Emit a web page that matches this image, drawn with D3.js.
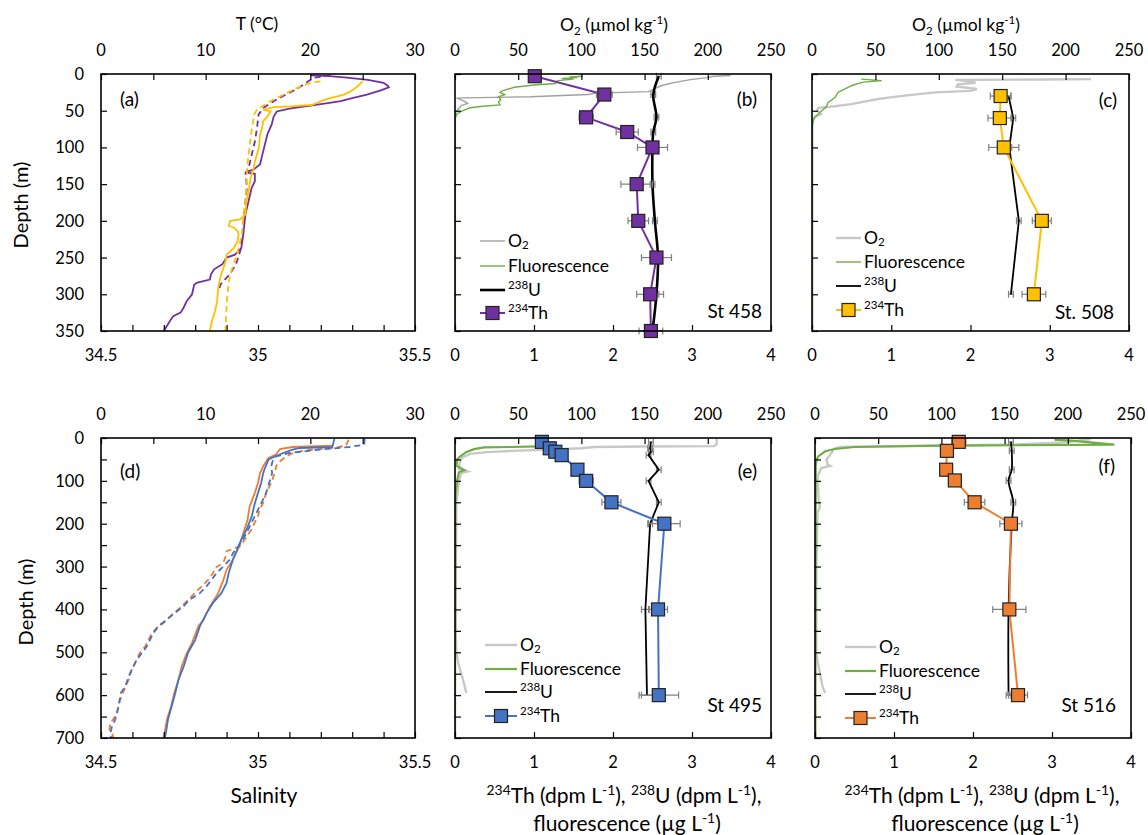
<!DOCTYPE html>
<html><head><meta charset="utf-8">
<script src="https://cdn.jsdelivr.net/npm/d3@7"></script>
<style>
body{margin:0;background:#fff;}
text{font-family:Lato,"Open Sans",sans-serif;fill:#000;}
</style>
</head><body>
<svg id="chart" width="1148" height="835"></svg>
<script>
// ---------------- DATA ----------------
// Panel (a) / (d): CTD profiles [depth m, value]; T in °C (solid), salinity (dashed)
const T458 = [[2,20.0],[3,21.8],[5,23.5],[8,25.5],[12,27.0],[16,27.4],[18,27.5],[22,26.8],[28,25.4],[33,24.0],[37,22.9],[40,21.5],[43,20.0],[47,18.0],[51,16.8],[58,16.5],[69,16.3],[82,15.9],[105,15.5],[123,15.2],[130,14.6],[134,13.8],[136,14.7],[146,14.7],[155,14.4],[173,14.1],[191,13.8],[218,13.6],[237,13.4],[246,12.8],[250,12.0],[259,11.6],[266,10.8],[273,10.5],[280,10.4],[284,9.2],[287,8.9],[300,8.7],[309,8.2],[318,7.9],[325,7.6],[330,6.9],[336,6.6],[350,6.0]];
const S458 = [[2,35.231],[5,35.178],[10,35.16],[20,35.125],[30,35.08],[37,35.05],[46,35.018],[55,35.002],[73,34.997],[92,34.99],[110,34.98],[128,34.97],[135,34.96],[155,34.965],[173,34.96],[200,34.955],[218,34.95],[237,34.946],[246,34.94],[259,34.93],[273,34.91],[282,34.89],[287,34.88],[296,34.875]];
const T508 = [[10,25.0],[17,24.5],[24,23.8],[28,23.2],[33,21.9],[37,21.0],[42,20.2],[44,18.1],[45,16.5],[48.5,15.5],[51,16.2],[58,15.9],[64,15.5],[73,15.4],[82,15.2],[100,15.1],[119,14.7],[128,14.6],[141,14.3],[160,14.1],[173,13.9],[191,13.8],[198,13.3],[200,12.35],[207,12.2],[209,12.7],[214,13.05],[218,13.15],[228,13.05],[237,12.7],[246,12.0],[255,11.9],[264,11.7],[277,11.4],[291,11.2],[309,11.1],[323,10.9],[336,10.6],[350,10.4]];
const S508 = [[10,35.199],[12,35.167],[19,35.124],[28,35.082],[37,35.039],[44,35.013],[48.5,34.997],[55,34.988],[82,34.978],[110,34.97],[128,34.965],[155,34.963],[173,34.96],[191,34.954],[218,34.949],[237,34.938],[246,34.933],[259,34.922],[273,34.912],[286,34.906],[309,34.901],[332,34.898],[350,34.896]];
const T495 = [[1.6,22.3],[21,22.1],[23.3,19.0],[27.2,18.3],[35,17.4],[46.7,16.3],[50.6,16.0],[74,15.6],[82,15.5],[105,15.3],[128,15.0],[152,14.7],[183,14.4],[214,13.9],[237,13.4],[261,13.0],[284,12.6],[315,12.2],[338,12.0],[362,11.5],[385,10.7],[408,10.1],[439,9.45],[471,9.0],[502,8.3],[533,7.9],[564,7.4],[595,7.1],[626,6.75],[657,6.4],[688,6.2],[700,6.1]];
const S495 = [[1.6,35.34],[15.6,35.338],[21,35.291],[27.2,35.196],[35,35.10],[42.8,35.058],[50.6,35.048],[66,35.042],[82,35.045],[97,35.039],[113,35.032],[128,35.026],[144,35.016],[160,35.005],[175,34.995],[191,34.984],[206,34.974],[222,34.963],[237,34.952],[253,34.937],[268,34.921],[284,34.91],[300,34.889],[315,34.868],[331,34.852],[346,34.836],[362,34.815],[377,34.783],[393,34.762],[408,34.736],[424,34.709],[439,34.683],[455,34.667],[471,34.656],[486,34.646],[502,34.63],[517,34.614],[548,34.593],[580,34.577],[595,34.563],[626,34.556],[642,34.551],[657,34.545],[673,34.535],[688,34.53],[700,34.532]];
const T516 = [[17.9,22.1],[21,18.3],[25.7,17.1],[38.9,16.7],[46.7,16.0],[66,15.5],[82,15.2],[105,15.0],[128,14.7],[160,14.2],[191,14.0],[222,13.6],[253,13.2],[284,12.6],[307,12.0],[331,11.7],[362,11.2],[393,10.4],[424,9.8],[439,9.3],[478,8.7],[502,8.2],[533,7.7],[564,7.4],[595,7.0],[626,6.7],[657,6.3],[700,6.0]];
const S516 = [[3.9,35.289],[17.9,35.28],[23.3,35.238],[28.8,35.153],[35,35.111],[42.8,35.09],[58.3,35.063],[66,35.058],[82,35.053],[105,35.042],[128,35.026],[152,35.016],[167,35.005],[183,35.0],[198,34.989],[214,34.979],[237,34.958],[253,34.942],[264,34.90],[276,34.897],[292,34.889],[303,34.863],[315,34.857],[331,34.841],[354,34.81],[377,34.778],[393,34.757],[416,34.72],[432,34.699],[439,34.683],[455,34.662],[486,34.641],[502,34.623],[517,34.614],[541,34.598],[564,34.588],[587,34.574],[611,34.561],[634,34.553],[650,34.545],[665,34.53],[681,34.527],[688,34.535],[700,34.54]];

// Panels (b),(c),(e),(f): O2 [depth, µmol/kg], fluorescence [depth, µg/L],
// 238U and 234Th [depth, dpm/L, error]
const O2_458 = [[2,218],[3,205],[5,199],[8,185],[12,172],[16,163],[20,158],[24,153],[26,112],[28,105],[31,60],[32.5,5],[33,2],[36,6],[40,10],[43,5],[47,3],[52,0.8],[60,0.3],[350,0.3]];
const FL_458 = [[3,1.62],[4,1.45],[5,1.55],[6,1.35],[7,1.50],[9,1.30],[13,1.27],[15,1.0],[18,0.75],[23,0.60],[25,0.57],[28,0.63],[31,0.55],[35,0.58],[38,0.55],[42,0.57],[44,0.35],[46,0.19],[50,0.1],[54,0.03],[60,0.0],[350,0.0]];
const U_458 = [[3,2.58,0.03],[28,2.51,0.03],[59,2.55,0.03],[79,2.51,0.03],[100,2.50,0.03],[150,2.50,0.03],[200,2.53,0.03],[250,2.57,0.03],[300,2.55,0.03],[350,2.50,0.03]];
const TH_458 = [[3,1.01,0.05],[28,1.89,0.10],[59,1.66,0.09],[79,2.18,0.14],[100,2.50,0.19],[150,2.30,0.20],[200,2.32,0.13],[250,2.55,0.19],[300,2.47,0.17],[350,2.48,0.15]];

const O2_508 = [[7,220],[7.5,180],[8,113],[10,125],[12,129],[14,115],[17,114],[20.5,130],[23,125],[25,97],[29.5,73],[34,52],[41,31],[44,18],[46,5],[50,4],[54.5,7],[57,4],[61,1],[70,0.3],[350,0.3]];
const FL_508 = [[7,0.62],[9,0.88],[11,0.65],[15,0.52],[18,0.46],[25,0.33],[32,0.29],[39,0.20],[45,0.18],[50,0.12],[54.5,0.08],[59,0.03],[66,0.01],[75,0],[350,0]];
const U_508 = [[30,2.48,0.03],[60,2.54,0.03],[100,2.49,0.03],[200,2.61,0.03],[300,2.51,0.03]];
const TH_508 = [[30,2.38,0.13],[60,2.37,0.15],[100,2.42,0.19],[200,2.90,0.12],[300,2.80,0.15]];

const O2_495 = [[2,207],[15,207],[19,205],[20,150],[21,110],[24,100],[27,75],[30,45],[33,25],[37,12],[45,6],[55,4],[72,3],[78,10],[82,5],[90,4],[104,3],[130,2],[150,1],[440,0.5],[500,1],[530,3],[560,6],[595,9]];
const FL_495 = [[19.5,1.08],[21,0.70],[22,0.37],[26,0.24],[33,0.14],[41,0.08],[49,0.03],[65,0.02],[75,0.12],[80,0.05],[96,0.03],[127,0.01],[158,0.005],[700,0]];
const U_495 = [[9,2.48,0.03],[24,2.47,0.03],[32,2.48,0.03],[40,2.45,0.03],[74,2.58,0.03],[100,2.45,0.03],[150,2.58,0.03],[200,2.47,0.03],[400,2.41,0.05],[600,2.43,0.07]];
const TH_495 = [[9,1.10,0.04],[24,1.20,0.04],[32,1.27,0.04],[40,1.35,0.04],[74,1.55,0.06],[100,1.66,0.09],[150,1.98,0.12],[200,2.65,0.20],[400,2.57,0.12],[600,2.58,0.25]];

const O2_516 = [[3,218],[5,210],[10,200],[15,160],[17,120],[19,60],[21,20],[25,15],[35,13],[50,9],[62,10],[65,12],[70,5],[90,2],[150,3],[160,4],[175,2],[300,1],[500,1],[520,2],[550,4],[580,6],[595,8]];
const FL_516 = [[4,3.03],[6,3.24],[10,3.49],[15.6,3.79],[17.9,1.6],[21,0.5],[25.7,0.25],[31,0.13],[43,0.04],[51,0.02],[66,0.01],[700,0.005]];
const U_516 = [[9,2.48,0.03],[30,2.49,0.03],[74,2.49,0.03],[99,2.45,0.03],[150,2.51,0.03],[200,2.49,0.03],[400,2.45,0.03],[600,2.45,0.03]];
const TH_516 = [[9,1.82,0.09],[30,1.67,0.07],[74,1.66,0.07],[99,1.77,0.08],[150,2.02,0.13],[200,2.48,0.14],[400,2.46,0.21],[600,2.57,0.12]];

// Tick labels
const tempTicks = [0,10,20,30];
const salTicks = [34.5,35,35.5];
const o2Ticks = [0,50,100,150,200,250];
const concTicks = [0,1,2,3,4];
const depthTicksTop = [0,50,100,150,200,250,300,350];
const depthTicksBottom = [0,100,200,300,400,500,600,700];

// ---------------- DRAWING ----------------
const svg = d3.select('#chart');
svg.append('rect').attr('width',1148).attr('height',835).attr('fill','#fff');
const FS = 16.5;
let clipId = 0;

function axisTicks(g, axisGen, transform){
  const a = g.append('g').attr('transform', transform).call(axisGen);
  a.select('.domain').remove();
  a.selectAll('line').attr('stroke','#000').attr('stroke-width',1.2);
  a.selectAll('text').remove();
}

function frame(g,p){
  g.append('rect').attr('x',p.l).attr('y',p.t).attr('width',p.r-p.l).attr('height',p.b-p.t)
   .attr('fill','none').attr('stroke','#000').attr('stroke-width',1.6);
}

function clip(p){
  const id = 'cl'+(clipId++);
  svg.append('clipPath').attr('id',id).append('rect')
    .attr('x',p.l).attr('y',p.t-8).attr('width',p.r-p.l).attr('height',p.b-p.t+16);
  return 'url(#'+id+')';
}

function labelsX(g, scale, vals, y){
  g.selectAll(null).data(vals).enter().append('text')
    .attr('x',d=>scale(d)).attr('y',y).attr('text-anchor','middle')
    .attr('dominant-baseline','central').attr('font-size',FS).text(d=>d);
}
function labelsY(g, scale, vals, x){
  g.selectAll(null).data(vals).enter().append('text')
    .attr('x',x).attr('y',d=>scale(d)).attr('text-anchor','end')
    .attr('dominant-baseline','central').attr('font-size',FS).text(d=>d);
}

// rich text: parts [text, 'sup'|'sub'|null]
function rich(sel, parts, size, subOff){
  const so = subOff===undefined ? 0.25 : subOff;
  let prev = null;
  parts.forEach(([t,k])=>{
    const ts = sel.append('tspan').text(t);
    let dy = 0;
    if(prev==='sup') dy += size*0.38;
    if(prev==='sub') dy -= size*so;
    if(k==='sup'){ ts.attr('font-size',size*0.66); dy -= size*0.38; }
    else if(k==='sub'){ ts.attr('font-size',size*0.66); dy += size*so; }
    else ts.attr('font-size',size);
    if(dy) ts.attr('dy',dy);
    prev = k;
  });
}

// ---- CTD panel (a),(d)
function ctdPanel(p){
  const g = svg.append('g');
  const xT = d3.scaleLinear().domain([0,30]).range([p.l,p.r]);
  const xS = d3.scaleLinear().domain([34.5,35.5]).range([p.l,p.r]);
  const y = d3.scaleLinear().domain([0,p.maxD]).range([p.t,p.b]);
  const cp = clip(p);
  const lines = g.append('g').attr('clip-path',cp);
  p.series.forEach(s=>{
    const sc = s.kind==='T'? xT : xS;
    lines.append('path').datum(s.data)
      .attr('d', d3.line().x(d=>sc(d[1])).y(d=>y(d[0])))
      .attr('fill','none').attr('stroke',s.color).attr('stroke-width',1.8)
      .attr('stroke-dasharray', s.kind==='S'?'6,4':null);
  });
  frame(g,p);
  axisTicks(g, d3.axisTop(xT).tickValues(d3.range(0,31,5)).tickSizeInner(-6).tickSizeOuter(0), `translate(0,${p.t})`);
  axisTicks(g, d3.axisBottom(xS).tickValues(d3.range(34.5,35.51,0.1)).tickSizeInner(-6).tickSizeOuter(0), `translate(0,${p.b})`);
  axisTicks(g, d3.axisLeft(y).tickValues(d3.range(0,p.maxD+1,p.minor)).tickSizeInner(-6).tickSizeOuter(0), `translate(${p.l},0)`);
  labelsX(g, xT, tempTicks, p.t-24);
  labelsX(g, xS, salTicks, p.b+24);
  labelsY(g, y, p.depthLabels, p.l-17);
  g.append('text').attr('x',p.l+19).attr('y',p.t+p.tagDy).attr('font-size',19).text(p.tag);
}

// ---- Th/U panel
function thPanel(p){
  const g = svg.append('g');
  const xO = d3.scaleLinear().domain([0,250]).range([p.l,p.r]);
  const xC = d3.scaleLinear().domain([0,4]).range([p.l,p.r]);
  const y = d3.scaleLinear().domain([0,p.maxD]).range([p.t,p.b]);
  const cp = clip(p);
  const L = g.append('g').attr('clip-path',cp);
  const line = sc => d3.line().x(d=>sc(d[1])).y(d=>y(d[0]));
  L.append('path').datum(p.o2).attr('d',line(xO)).attr('fill','none')
    .attr('stroke',p.o2Color).attr('stroke-width',p.o2W);
  L.append('path').datum(p.fl).attr('d',line(xC)).attr('fill','none')
    .attr('stroke','#70AD47').attr('stroke-width',p.flW);
  const err = (data)=>{
    const e = L.append('g').attr('stroke','#808080').attr('stroke-width',1.2);
    data.forEach(d=>{
      const yy=y(d[0]), x1=xC(d[1]-d[2]), x2=xC(d[1]+d[2]);
      e.append('line').attr('x1',x1).attr('x2',x2).attr('y1',yy).attr('y2',yy);
      e.append('line').attr('x1',x1).attr('x2',x1).attr('y1',yy-3.5).attr('y2',yy+3.5);
      e.append('line').attr('x1',x2).attr('x2',x2).attr('y1',yy-3.5).attr('y2',yy+3.5);
    });
  };
  err(p.u);
  L.append('path').datum(p.u).attr('d',line(xC).curve(p.uCurve)).attr('fill','none')
    .attr('stroke','#000').attr('stroke-width',p.uW);
  L.append('path').datum(p.th).attr('d',line(xC)).attr('fill','none')
    .attr('stroke',p.thColor).attr('stroke-width',2);
  err(p.th);
  L.selectAll(null).data(p.th).enter().append('rect')
    .attr('x',d=>xC(d[1])-6.5).attr('y',d=>y(d[0])-6.5).attr('width',13).attr('height',13)
    .attr('fill',p.thColor).attr('stroke','#222').attr('stroke-width',1.2);
  frame(g,p);
  axisTicks(g, d3.axisTop(xO).tickValues(o2Ticks).tickSizeInner(-6).tickSizeOuter(0), `translate(0,${p.t})`);
  axisTicks(g, d3.axisBottom(xC).tickValues(concTicks).tickSizeInner(-6).tickSizeOuter(0), `translate(0,${p.b})`);
  axisTicks(g, d3.axisLeft(y).tickValues(d3.range(0,p.maxD+1,50)).tickSizeInner(-6).tickSizeOuter(0), `translate(${p.l},0)`);
  labelsX(g, xO, o2Ticks, p.t-24);
  labelsX(g, xC, concTicks, p.b+24);
  g.append('text').attr('x',p.tagX).attr('y',p.tagY).attr('text-anchor','end').attr('font-size',19).text(p.tag);
  g.append('text').attr('x',p.stX).attr('y',p.stY).attr('text-anchor','end').attr('font-size',19).text(p.st);
  // legend
  const lg = g.append('g');
  const items = [
    {parts:[['O',null],['2','sub']], color:p.o2Color, w:p.o2W},
    {parts:[['Fluorescence',null]], color:'#70AD47', w:p.flW},
    {parts:[['238','sup'],['U',null]], color:'#000', w:p.uW},
    {parts:[['234','sup'],['Th',null]], color:p.thColor, w:2, marker:true}
  ];
  items.forEach((it,i)=>{
    const yy = p.legY[i];
    lg.append('line').attr('x1',p.legX0).attr('x2',p.legX1).attr('y1',yy).attr('y2',yy)
      .attr('stroke',it.color).attr('stroke-width',it.w);
    if(it.marker){
      const mx=(p.legX0+p.legX1)/2;
      lg.append('rect').attr('x',mx-6.5).attr('y',yy-6.5).attr('width',13).attr('height',13)
        .attr('fill',p.thColor).attr('stroke','#222').attr('stroke-width',1.2);
    }
    const t = lg.append('text').attr('x',p.legX1+3).attr('y',yy+5.5);
    rich(t,it.parts,17.5,0.12);
  });
}

// Panel (a)
ctdPanel({l:101,r:415,t:74,b:331,maxD:350,minor:50,depthLabels:depthTicksTop,tag:'(a)',tagDy:32,
  series:[{data:T458,kind:'T',color:'#7030A0'},{data:S458,kind:'S',color:'#7030A0'},
          {data:T508,kind:'T',color:'#FFC000'},{data:S508,kind:'S',color:'#FFC000'}]});
// Panel (d)
ctdPanel({l:101,r:415,t:438,b:738,maxD:700,minor:50,depthLabels:depthTicksBottom,tag:'(d)',tagDy:40,
  series:[{data:T516,kind:'T',color:'#ED7D31'},{data:S516,kind:'S',color:'#ED7D31'},
          {data:T495,kind:'T',color:'#4472C4'},{data:S495,kind:'S',color:'#4472C4'}]});

thPanel({l:455,r:771,t:74,b:331,maxD:350,o2:O2_458,fl:FL_458,u:U_458,th:TH_458,
  o2Color:'#A0A0A0',o2W:1.4,flW:1.4,uW:2.6,thColor:'#7030A0',uCurve:d3.curveCatmullRom,
  tag:'(b)',tagX:757,tagY:106,st:'St 458',stX:762,stY:318,
  legX0:480,legX1:505,legY:[241,266,290,313]});
thPanel({l:812,r:1129,t:74,b:331,maxD:350,o2:O2_508,fl:FL_508,u:U_508,th:TH_508,
  o2Color:'#C8C8C8',o2W:2.4,flW:1.4,uW:1.8,thColor:'#FFC000',uCurve:d3.curveLinear,
  tag:'(c)',tagX:1117,tagY:107,st:'St. 508',stX:1114,stY:319,
  legX0:836,legX1:861,legY:[238,262,286,310]});
thPanel({l:455,r:771,t:438,b:738,maxD:700,o2:O2_495,fl:FL_495,u:U_495,th:TH_495,
  o2Color:'#C8C8C8',o2W:2.4,flW:2.2,uW:1.8,thColor:'#4472C4',uCurve:d3.curveLinear,
  tag:'(e)',tagX:757,tagY:478,st:'St 495',stX:762,stY:712,
  legX0:485,legX1:517,legY:[645,669,692,716]});
thPanel({l:815,r:1131,t:438,b:738,maxD:700,o2:O2_516,fl:FL_516,u:U_516,th:TH_516,
  o2Color:'#C8C8C8',o2W:2.4,flW:2.2,uW:1.8,thColor:'#ED7D31',uCurve:d3.curveCatmullRom,
  tag:'(f)',tagX:1115,tagY:473,st:'St 516',stX:1116,stY:712,
  legX0:845,legX1:876,legY:[647,671,694,718]});

// Axis titles
const titles = svg.append('g');
titles.append('text').attr('x',257).attr('y',30).attr('text-anchor','middle').attr('font-size',17.5).text('T (°C)');
[614,966].forEach(cx=>{
  const t = titles.append('text').attr('x',cx).attr('y',31).attr('text-anchor','middle');
  rich(t,[['O',null],['2','sub'],[' (µmol kg',null],['-1','sup'],[')',null]],17.5);
});
titles.append('text').attr('transform','translate(20,205) rotate(-90)').attr('text-anchor','middle').attr('dominant-baseline','central').attr('font-size',20).text('Depth (m)');
titles.append('text').attr('transform','translate(25,602) rotate(-90)').attr('text-anchor','middle').attr('dominant-baseline','central').attr('font-size',20).text('Depth (m)');
titles.append('text').attr('x',264).attr('y',803).attr('text-anchor','middle').attr('font-size',21).text('Salinity');
[624,982].forEach(cx=>{
  const t1 = titles.append('text').attr('x',cx).attr('y',803).attr('text-anchor','middle');
  rich(t1,[['234','sup'],['Th (dpm L',null],['-1','sup'],['), ',null],['238','sup'],['U (dpm L',null],['-1','sup'],['),',null]],21);
  const t2 = titles.append('text').attr('x',cx+3).attr('y',831).attr('text-anchor','middle');
  rich(t2,[['fluorescence (µg L',null],['-1','sup'],[')',null]],21);
});
</script>
</body></html>
